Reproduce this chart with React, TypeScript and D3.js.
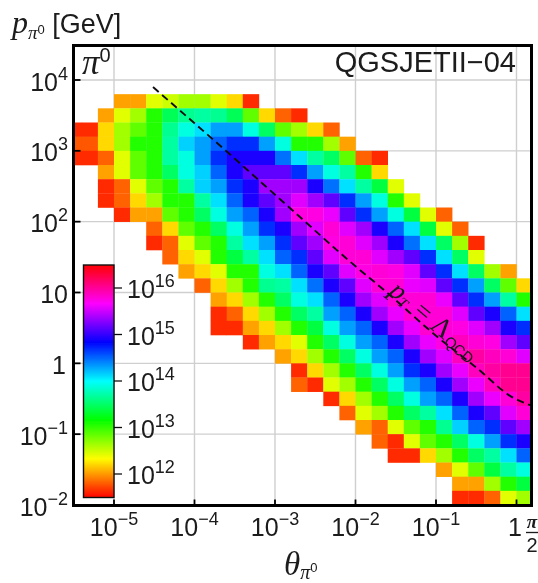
import React from "react";
import * as d3 from "d3";

const firstBin = [3,2,0,0,0,2,2,2,3,5,5,6,7,8,9,9,9,11,13,14,14,16,17,18,19,20,23,24,24];
const row00 = [12.03,12.03,12.43,12.5,12.64,12.64,12.43,12.21,11.64];
const row01 = [12.03,12.43,12.64,13.06,13.45,13.64,13.69,13.64,13.45,12.85,12.21,11.82,11.64];
const row02 = [11.64,11.64,12.21,12.64,12.85,13.06,13.64,13.9,14.1,14.31,14.31,13.9,13.49,12.85,12.64,12.21,11.82];
const row03 = [11.78,11.78,12.21,12.64,13.06,13.06,13.69,14.15,14.31,14.51,14.68,14.68,14.31,13.9,13.06,13.06,12.64,12.03];
const row04 = [11.64,11.64,11.82,12.43,12.85,13.06,13.69,13.9,14.31,14.68,14.92,14.92,14.92,14.47,14.1,13.69,13.49,12.85,11.82,11.64];
const row05 = [12.03,12.43,12.85,13.06,13.49,13.9,14.15,14.51,14.92,15.15,15.15,15.15,14.68,14.31,13.9,13.69,13.06,12.21];
const row06 = [11.64,11.82,12.43,12.85,13.06,13.69,14.15,14.31,14.68,14.92,15.36,15.36,15.36,14.92,14.47,14.1,13.69,13.38,12.43];
const row07 = [11.64,11.82,12.21,12.64,13.06,13.06,13.69,14.1,14.51,14.92,15.15,15.36,15.57,15.36,15.15,14.68,14.31,13.9,13.06,12.43];
const row08 = [11.64,12.03,12.03,12.85,13.06,13.49,13.9,14.31,14.51,14.92,15.36,15.76,15.76,15.6,15.15,14.68,14.31,13.9,13.38,12.43,11.82];
const row09 = [11.82,12.21,12.85,13.06,13.49,13.9,14.31,14.68,14.92,15.36,15.57,15.8,15.57,15.36,14.92,14.51,14.1,13.38,12.43,11.82];
const row10 = [11.64,11.82,12.43,12.85,13.06,13.69,14.1,14.31,14.68,15.15,15.36,15.76,15.8,15.57,15.36,14.92,14.47,14.1,13.49,12.64,11.64];
const row11 = [11.82,12.21,12.43,13.06,13.38,13.69,14.1,14.51,14.68,15.15,15.57,15.8,15.8,15.57,15.36,15.15,14.68,14.1,13.49,12.43];
const row12 = [12.03,12.21,12.43,13.06,13.06,13.9,14.1,14.51,14.92,15.15,15.57,15.76,15.8,15.76,15.57,15.15,14.68,14.1,13.49,12.64,12.03];
const row13 = [11.82,12.21,12.64,13.06,13.64,13.69,14.1,14.47,14.92,15.15,15.57,15.8,15.8,15.6,15.57,15.15,14.68,14.31,13.49,12.85,12.21];
const row14 = [12.03,12.21,12.64,13.06,13.49,13.9,14.1,14.51,14.92,15.36,15.57,15.8,15.8,15.8,15.6,15.15,14.68,14.31,13.69,13.06];
const row15 = [11.64,11.82,12.21,12.64,13.06,13.49,13.69,14.31,14.51,14.92,15.36,15.6,15.8,15.8,15.8,15.57,15.15,14.92,14.51,14.1];
const row16 = [11.64,11.64,12.03,12.21,12.64,13.06,13.38,13.9,14.31,14.51,14.92,15.36,15.6,15.82,15.8,15.76,15.57,15.36,14.92,14.68];
const row17 = [11.64,12.03,12.21,12.43,13.06,13.49,13.9,14.31,14.51,14.92,15.36,15.6,15.76,15.88,15.8,15.76,15.36,15.15];
const row18 = [12.03,12.21,12.64,13.06,13.49,13.9,14.31,14.51,14.92,15.36,15.57,15.88,15.97,15.88,15.8,15.57];
const row19 = [11.64,12.21,12.64,13.06,13.49,13.9,14.31,14.68,14.92,15.36,15.6,15.88,15.97,16.03,16.03];
const row20 = [11.82,11.64,12.43,12.64,13.06,13.49,13.9,14.31,14.51,14.92,15.36,15.6,15.88,16.03,16.03];
const row21 = [11.64,12.21,12.64,13.06,13.49,13.9,14.31,14.51,14.92,15.36,15.6,15.8,15.97];
const row22 = [11.82,12.43,12.64,13.06,13.49,13.69,14.1,14.51,14.92,15.15,15.57,15.8];
const row23 = [12.03,11.82,12.43,12.85,13.06,13.64,14.15,14.51,14.68,15.15,15.36];
const row24 = [11.82,11.64,12.43,12.85,13.06,13.49,13.9,14.31,14.68,14.92];
const row25 = [11.64,11.64,12.21,12.64,13.06,13.49,13.69,14.1,14.51];
const row26 = [12.03,12.43,12.85,13.38,13.69,13.9];
const row27 = [12.03,12.03,12.64,13.06,13.38];
const row28 = [11.64,11.64,11.82,12.43,12.64];
const rows = [row00,row01,row02,row03,row04,row05,row06,row07,row08,row09,row10,row11,row12,row13,row14,row15,row16,row17,row18,row19,row20,row21,row22,row23,row24,row25,row26,row27,row28];

const xTicks = [-5, -4, -3, -2, -1, 0];
const yTicks = [4, 3, 2, 1, 0, -1, -2];
const barTicks = [12, 13, 14, 15, 16];
// pT = Lambda_QCD curve
const curveTheta = [-4.515, -3.6, -2.714, -2.09, -1.6, -1.0, -0.478, -0.07, 0.17];
const curveP = [3.9, 2.99, 2.09, 1.458, 0.99, 0.39, -0.08, -0.466, -0.59];

const SANS = "'Liberation Sans', Arial, sans-serif";
const SERIF = "'Liberation Serif', serif";

const x = d3.scaleLinear().domain([-5, 0]).range([114, 516.5]);
const y = d3.scaleLinear().domain([4, -2]).range([80, 505]);
const barY = d3.scaleLinear().domain([12, 16]).range([474, 288]);
const hue = d3.scaleLinear().domain([11.5, 16.5]).range([0, 360]);
const color = (v: number) => d3.hsl(hue(v), 1, 0.5).formatHex();

const BIN = 0.2;
const X0 = -5.6;
const Y0 = 3.8;
const plot = { l: 73.5, r: 531.5, t: 45.5, b: 505.5 };

function Pow({ px, py, exp, anchor, base = "10" }: any) {
  return (
    <text x={px} y={py} fontFamily={SANS} fontSize={25} fill="#1a1a1a" textAnchor={anchor}>
      <tspan>{base}</tspan>
      {exp !== "" && <tspan fontSize={18} dy={-11}>{exp}</tspan>}
    </text>
  );
}
const fmt = (n: number) => String(n).replace("-", "\u2212");

export default function App() {
  const line = d3.line<number>()
    .x((d) => x(d))
    .y((_, i) => y(curveP[i]))
    .curve(d3.curveMonotoneX)(curveTheta) as string;
  const stops = d3.range(0, 1.001, 1 / 12);
  const barTop = 265;
  const barBot = 497.5;
  const vTop = barY.invert(barTop);
  const vBot = barY.invert(barBot);
  return (
    <svg width={538} height={583} style={{ position: "absolute", left: 0, top: 0 }}>
      <defs>
        <clipPath id="plot"><rect x={plot.l} y={plot.t} width={plot.r - plot.l} height={plot.b - plot.t} /></clipPath>
        <linearGradient id="bar" x1="0" y1="1" x2="0" y2="0">
          {stops.map((t) => <stop key={t} offset={t} stopColor={color(vBot + (vTop - vBot) * t)} />)}
        </linearGradient>
        <filter id="soft" x="0" y="0" width="100%" height="100%"><feGaussianBlur stdDeviation="0.5" /></filter>
      </defs>
      <rect width={538} height={583} fill="#fff" />
      <g filter="url(#soft)">
        <g clipPath="url(#plot)">
          {xTicks.map((t) => <line key={t} x1={x(t)} x2={x(t)} y1={plot.t} y2={plot.b} stroke="#cfcfcf" strokeWidth={1.4} />)}
          {yTicks.map((t) => <line key={t} x1={plot.l} x2={plot.r} y1={y(t)} y2={y(t)} stroke="#cfcfcf" strokeWidth={1.4} />)}
          {rows.map((row, r) => row.map((v, i) => {
            const c = firstBin[r] + i;
            const xa = x(X0 + BIN * c), xb = x(X0 + BIN * (c + 1));
            const ya = y(Y0 - BIN * r), yb = y(Y0 - BIN * (r + 1));
            return <rect key={r + "-" + c} x={xa} y={ya} width={xb - xa + 0.3} height={yb - ya + 0.3} fill={color(v)} />;
          }))}
          <path d={line} fill="none" stroke="#111" strokeWidth={1.9} strokeDasharray="7.5 4.5" />
        </g>
        {xTicks.map((t) => <line key={t} x1={x(t)} x2={x(t)} y1={plot.b} y2={plot.b - 6} stroke="#000" strokeWidth={1.8} />)}
        {yTicks.map((t) => <line key={t} x1={plot.l} x2={plot.l + 7} y1={y(t)} y2={y(t)} stroke="#000" strokeWidth={1.8} />)}
        <rect x={plot.l} y={plot.t} width={plot.r - plot.l} height={plot.b - plot.t} fill="none" stroke="#000" strokeWidth={3} />

        <rect x={83.5} y={barTop} width={30.5} height={barBot - barTop} fill="url(#bar)" stroke="#111" strokeWidth={1.4} />
        {barTicks.map((t) => (
          <g key={t}>
            <line x1={114} x2={122} y1={barY(t)} y2={barY(t)} stroke="#111" strokeWidth={1.3} />
            <Pow px={127} py={barY(t) + 10} exp={String(t)} anchor="start" />
          </g>
        ))}

        {yTicks.map((t) => (
          <Pow key={t} px={t === 0 ? 66 : 68} py={y(t) + 10.5} anchor="end"
            base={t === 0 ? "1" : "10"} exp={t === 0 || t === 1 ? "" : fmt(t)} />
        ))}
        {xTicks.filter((t) => t !== 0).map((t) => (
          <Pow key={t} px={x(t)} py={536} anchor="middle" exp={fmt(t)} />
        ))}
        <text x={508} y={536} fontFamily={SANS} fontSize={25} fill="#1a1a1a">1</text>
        <text x={532} y={528} fontFamily={SERIF} fontStyle="italic" fontWeight={700} fontSize={19} fill="#1a1a1a" textAnchor="middle">π</text>
        <line x1={526} x2={538} y1={532.5} y2={532.5} stroke="#1a1a1a" strokeWidth={1.3} />
        <text x={532} y={552} fontFamily={SANS} fontSize={20} fill="#1a1a1a" textAnchor="middle">2</text>

        <text x={12} y={33} fontFamily={SANS} fontSize={27} fill="#1a1a1a">
          <tspan fontFamily={SERIF} fontStyle="italic" fontSize={32}>p</tspan>
          <tspan fontFamily={SERIF} fontStyle="italic" fontSize={19} dy={6}>π</tspan>
          <tspan fontSize={13} dy={-5}>0</tspan>
          <tspan dy={-1}> [GeV]</tspan>
        </text>
        <text x={284} y={575} fontFamily={SERIF} fontStyle="italic" fontSize={33} fill="#1a1a1a">
          θ<tspan fontSize={20} dy={4}>π</tspan>
          <tspan fontFamily={SANS} fontStyle="normal" fontSize={13} dy={-7}>0</tspan>
        </text>
        <text x={82} y={74} fontFamily={SERIF} fontStyle="italic" fontSize={35} fill="#1a1a1a">
          π<tspan fontFamily={SANS} fontStyle="normal" fontSize={20} dy={-12} dx={0}>0</tspan>
        </text>
        <text x={516} y={72} textAnchor="end" fontFamily={SANS} fontSize={29} fill="#1a1a1a">QGSJETII−04</text>
        <g transform="translate(388,293) rotate(40)">
          <text fontFamily={SERIF} fontSize={27} fill="#1a1a1a">
            <tspan fontStyle="italic">p</tspan>
            <tspan fontStyle="italic" fontSize={15} dy={3}>T</tspan>
            <tspan dy={-3} dx={3}> = Λ</tspan>
            <tspan fontFamily={SANS} fontSize={15} dy={3} dx={1}>QCD</tspan>
          </text>
        </g>
      </g>
    </svg>
  );
}
